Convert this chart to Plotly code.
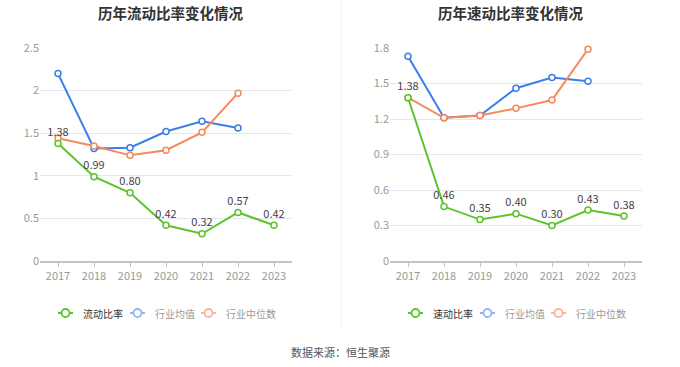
import plotly.graph_objects as go

years = ["2017", "2018", "2019", "2020", "2021", "2022", "2023"]
years_ind = years[:6]

current_ratio = [1.38, 0.99, 0.80, 0.42, 0.32, 0.57, 0.42]
current_ind_avg = [2.20, 1.32, 1.33, 1.52, 1.64, 1.56]
current_ind_med = [1.44, 1.35, 1.24, 1.30, 1.51, 1.97]

quick_ratio = [1.38, 0.46, 0.35, 0.40, 0.30, 0.43, 0.38]
quick_ind_avg = [1.73, 1.21, 1.23, 1.46, 1.55, 1.52]
quick_ind_med = [1.38, 1.21, 1.23, 1.29, 1.36, 1.79]

titles = ["历年流动比率变化情况", "历年速动比率变化情况"]
names_main = ["流动比率", "速动比率"]
name_avg = "行业均值"
name_med = "行业中位数"
source = "数据来源：恒生聚源"

GREEN = "#5cc42a"
BLUE = "#3d7ee8"
ORANGE = "#f7895c"
BLUE_L = "#94b5f2"
ORANGE_L = "#f9b69a"
FONT = "Noto Sans CJK SC"
W, H = 680, 367

fig = go.Figure()

panels = [
    (current_ratio, current_ind_avg, current_ind_med, "x", "y"),
    (quick_ratio, quick_ind_avg, quick_ind_med, "x2", "y2"),
]

for i, (main, avg, med, xa, ya) in enumerate(panels):
    fig.add_trace(go.Scatter(x=years_ind, y=avg, mode="lines+markers", xaxis=xa, yaxis=ya,
                             line=dict(color=BLUE, width=2),
                             marker=dict(symbol="circle", size=6, color="white", line=dict(color=BLUE, width=1.5)),
                             showlegend=False, hoverinfo="skip", cliponaxis=False))
    fig.add_trace(go.Scatter(x=years_ind, y=med, mode="lines+markers", xaxis=xa, yaxis=ya,
                             line=dict(color=ORANGE, width=2),
                             marker=dict(symbol="circle", size=6, color="white", line=dict(color=ORANGE, width=1.5)),
                             showlegend=False, hoverinfo="skip", cliponaxis=False))
    fig.add_trace(go.Scatter(x=years, y=main, mode="lines+markers+text", xaxis=xa, yaxis=ya,
                             line=dict(color=GREEN, width=2),
                             marker=dict(symbol="circle", size=6, color="white", line=dict(color=GREEN, width=1.5)),
                             text=[f"{v:.2f}" for v in main], textposition="top center",
                             textfont=dict(size=11, color="#444", family=FONT),
                             showlegend=False, hoverinfo="skip", cliponaxis=False))

ydom = [1 - 261 / H, 1 - 48 / H]
axis_common = dict(showgrid=False, showline=True, linecolor="#c4c4c4", linewidth=1.5,
                   ticks="outside", ticklen=4, tickcolor="#c4c4c4", tickwidth=1,
                   tickfont=dict(size=11, color="#999", family=FONT), type="category",
                   range=[-0.5, 6.5], fixedrange=True)
yaxis_common = dict(showgrid=True, gridcolor="#e3e8f3", gridwidth=1, zeroline=False, showline=False,
                    tickfont=dict(size=11, color="#999", family=FONT), ticks="", fixedrange=True)

shapes = [dict(type="line", xref="paper", yref="paper", x0=341 / W, x1=341 / W,
               y0=1 - 330 / H, y1=1, line=dict(color="#f0f0f0", width=1))]
annotations = [
    dict(text=f"<b>{titles[0]}</b>", x=170 / W, y=1 - 12 / H, xref="paper", yref="paper",
         showarrow=False, font=dict(size=14.5, color="#333", family=FONT), xanchor="center", yanchor="middle"),
    dict(text=f"<b>{titles[1]}</b>", x=510 / W, y=1 - 12 / H, xref="paper", yref="paper",
         showarrow=False, font=dict(size=14.5, color="#333", family=FONT), xanchor="center", yanchor="middle"),
    dict(text=source, x=0.5, y=1 - 352 / H, xref="paper", yref="paper",
         showarrow=False, font=dict(size=11, color="#555", family=FONT), xanchor="center", yanchor="middle"),
]
ly = 1 - 313 / H
for i, base in enumerate([58, 408]):
    items = [(names_main[i], GREEN, "#333", 0), (name_avg, BLUE_L, "#999", 72), (name_med, ORANGE_L, "#999", 143)]
    for nm, col, tc, off in items:
        x0 = base + off
        shapes.append(dict(type="line", xref="paper", yref="paper", x0=x0 / W, x1=(x0 + 15) / W,
                           y0=ly, y1=ly, line=dict(color=col, width=2)))
        shapes.append(dict(type="circle", xref="paper", yref="paper", xsizemode="pixel", ysizemode="pixel",
                           xanchor=(x0 + 7.5) / W, yanchor=ly, x0=-4, x1=4, y0=-4, y1=4,
                           fillcolor="white", line=dict(color=col, width=1.8)))
        annotations.append(dict(text=nm, x=(x0 + 23) / W, y=ly, xref="paper", yref="paper", showarrow=False,
                                font=dict(size=10, color=tc, family=FONT), xanchor="left", yanchor="middle"))

fig.update_layout(
    width=W, height=H,
    margin=dict(l=0, r=0, t=0, b=0, autoexpand=False),
    paper_bgcolor="white", plot_bgcolor="white",
    font=dict(family=FONT),
    showlegend=False,
    xaxis=dict(domain=[40 / W, 292 / W], anchor="y", **axis_common),
    yaxis=dict(domain=ydom, anchor="x", range=[0, 2.5], dtick=0.5, tick0=0, **yaxis_common),
    xaxis2=dict(domain=[390 / W, 642 / W], anchor="y2", **axis_common),
    yaxis2=dict(domain=ydom, anchor="x2", range=[0, 1.8], dtick=0.3, tick0=0, **yaxis_common),
    annotations=annotations,
    shapes=shapes,
)

fig.write_html("out.html", config={"displayModeBar": False, "staticPlot": True},
               post_script="document.body.style.margin='0';document.body.style.overflow='hidden';")
